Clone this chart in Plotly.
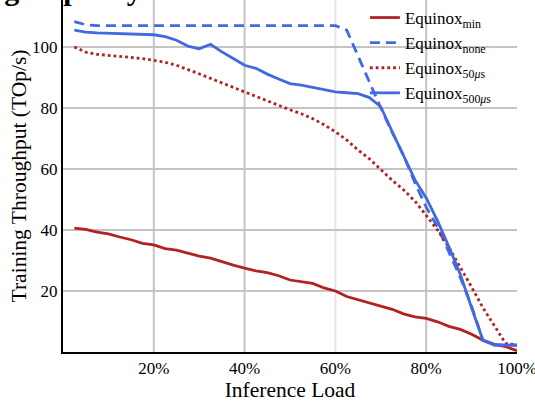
import plotly.graph_objects as go

load = [2.5, 5, 7.5, 10, 12.5, 15, 17.5, 20, 22.5, 25, 27.5, 30, 32.5, 35, 37.5, 40,
        42.5, 45, 47.5, 50, 52.5, 55, 57.5, 60, 62.5, 65, 67.5, 70, 72.5, 75, 77.5, 80,
        82.5, 85, 87.5, 90, 92.5, 95, 97.5, 100]

eq_min = [40.6, 40.2, 39.3, 38.7, 37.7, 36.8, 35.6, 35.1, 33.9, 33.4, 32.4, 31.4, 30.8, 29.6,
          28.5, 27.5, 26.6, 26.0, 25.0, 23.6, 23.1, 22.5, 21.0, 20.0, 18.2, 17.1, 16.0, 15.0,
          14.0, 12.5, 11.5, 11.0, 9.9, 8.4, 7.4, 5.8, 3.9, 2.5, 1.8, 0.4]

eq_none = [108.3, 107.3, 107.0, 107.0, 107.0, 107.0, 107.0, 107.0, 107.0, 107.0, 107.0, 107.0,
           107.0, 107.0, 107.0, 107.0, 107.0, 107.0, 107.0, 107.0, 107.0, 107.0, 107.0, 107.0,
           105.5, 97.0, 88.0, 80.0, 72.0, 64.5, 55.5, 47.5, 41.0, 33.0, 24.5, 15.0, 3.8, 2.3,
           2.3, 2.3]

eq_50us = [100.0, 98.3, 97.6, 97.3, 97.0, 96.6, 96.2, 95.6, 95.0, 94.0, 92.7, 91.2, 89.7, 88.2,
           86.7, 85.2, 83.7, 82.2, 80.7, 79.4, 78.1, 76.5, 74.5, 72.2, 69.5, 66.2, 63.3, 59.8,
           56.3, 53.2, 49.5, 44.8, 40.0, 34.3, 28.0, 21.3, 14.5, 8.5, 2.8, 2.3]

eq_500us = [105.5, 104.9, 104.6, 104.5, 104.4, 104.4, 104.2, 104.0, 103.4, 102.2, 100.3, 99.4,
            100.9, 98.4, 96.2, 94.0, 93.0, 91.1, 89.5, 88.0, 87.5, 86.8, 86.0, 85.3, 85.0, 84.7,
            83.4, 80.4, 72.3, 64.5, 56.5, 50.5, 43.0, 34.5, 25.5, 14.5, 3.8, 2.3, 2.2, 2.2]

x_ticks = [20, 40, 60, 80, 100]
x_tick_text = ["20%", "40%", "60%", "80%", "100%"]
y_ticks = [20, 40, 60, 80, 100]
x_grid = [20, 40, 60, 80]
x_grid_colors = ["#c4c4c4", "#c4c4c4", "#e6e6e6", "#c4c4c4"]

RED = "#b22222"
BLUE = "#4169e1"
FONT = "Liberation Serif"

fig = go.Figure()
fig.add_trace(go.Scatter(x=load, y=eq_min, mode="lines", name="Equinox<sub>min</sub>",
                         line=dict(color=RED, width=2.8)))
fig.add_trace(go.Scatter(x=load, y=eq_none, mode="lines", name="Equinox<sub>none</sub>",
                         line=dict(color=BLUE, width=2.8, dash="10px,6px")))
fig.add_trace(go.Scatter(x=load, y=eq_50us, mode="lines", name="Equinox<sub>50<i>μ</i>s</sub>",
                         line=dict(color=RED, width=2.8, dash="2.8px,3px")))
fig.add_trace(go.Scatter(x=load, y=eq_500us, mode="lines", name="Equinox<sub>500<i>μ</i>s</sub>",
                         line=dict(color=BLUE, width=2.8)))

for gx, gc in zip(x_grid, x_grid_colors):
    fig.add_shape(type="line", xref="x", yref="paper", x0=gx, x1=gx, y0=0, y1=1,
                  line=dict(color=gc, width=2), layer="below")

fig.add_annotation(text="<b>Training Capacity</b>", xref="paper", yref="paper",
                   x=-0.345, y=1, xanchor="left", yanchor="bottom", yshift=-8,
                   showarrow=False, font=dict(family=FONT, size=30, color="black"))

fig.update_layout(
    width=535, height=402,
    margin=dict(l=63, r=18, t=0, b=50),
    paper_bgcolor="white", plot_bgcolor="white",
    font=dict(family=FONT, size=17, color="black"),
    showlegend=True,
    legend=dict(x=0.665, y=1.0, xanchor="left", yanchor="top", bgcolor="rgba(0,0,0,0)",
                font=dict(family=FONT, size=17), itemwidth=30, tracegroupgap=0),
    xaxis=dict(range=[0, 100], tickvals=x_ticks, ticktext=x_tick_text, showgrid=False,
               zeroline=False, showline=True, linecolor="black", linewidth=2,
               ticks="", tickfont=dict(size=17), automargin=False, ticklabeloverflow="allow",
               title=dict(text="Inference Load", font=dict(size=21.5), standoff=2)),
    yaxis=dict(range=[0, 115.4], tickvals=y_ticks, showgrid=True, gridcolor="#c4c4c4",
               gridwidth=2, zeroline=False, showline=True, linecolor="black", linewidth=2,
               ticks="", tickfont=dict(size=17), automargin=False,
               title=dict(text="Training Throughput (TOp/s)", font=dict(size=21.5), standoff=0)),
)

fig.write_html("out.html", config={"displayModeBar": False},
               post_script="document.body.style.margin='0px';document.body.style.overflow='hidden';")
